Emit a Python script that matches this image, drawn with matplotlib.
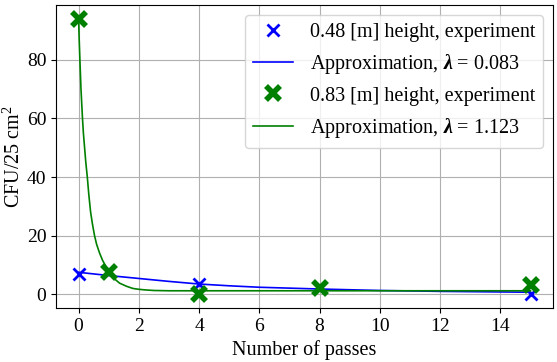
import matplotlib
matplotlib.use('Agg')
import matplotlib.pyplot as plt

plt.rcParams['font.family'] = 'Liberation Serif'
plt.rcParams['mathtext.fontset'] = 'custom'
plt.rcParams['mathtext.rm'] = 'Liberation Serif'
plt.rcParams['mathtext.it'] = 'Liberation Serif:italic'
plt.rcParams['mathtext.bf'] = 'Liberation Serif:italic:bold'
plt.rcParams['font.size'] = 14

# experiment points
passes = [0, 1, 4, 8, 15]
low_exp = [6.9, 7.5, 3.5, 2.0, 0.1]      # 0.48 m height
high_exp = [94, 7.7, 0.0, 2.1, 3.3]      # 0.83 m height

# approximation curves
low_fit_x = [0, 1, 2, 3, 4, 5, 6, 7, 8, 10, 12, 15]
low_fit_y = [7.5, 6.4, 5.4, 4.4, 3.5, 2.9, 2.4, 2.1, 1.8, 1.3, 1.0, 0.7]
high_fit_x = [0, 0.02, 0.044, 0.08, 0.13, 0.16, 0.2, 0.24, 0.29, 0.34, 0.4, 0.46,
              0.53, 0.6, 0.7, 0.8, 0.91, 1.0, 1.1, 1.2, 1.36, 1.6, 1.8, 2.0,
              2.2, 2.5, 3, 15]
high_fit_y = [94, 87, 80, 70, 60, 55, 50, 45, 40, 34, 28, 24,
              20, 17, 14, 11.5, 9.5, 7.8, 6.3, 5.2, 3.8, 2.7, 2.0, 1.7,
              1.5, 1.3, 1.2, 1.2]

fig, ax = plt.subplots(figsize=(5.57, 3.62), dpi=100)
ax.plot(passes, low_exp, 'x', color='blue', markersize=8, mew=2,
        label='0.48 [m] height, experiment')
ax.plot(low_fit_x, low_fit_y, '-', color='blue', linewidth=1.2,
        label=r'Approximation, $\mathbf{\lambda}$ = 0.083')
ax.plot(passes, high_exp, 'x', color='green', markersize=10, mew=4,
        label='0.83 [m] height, experiment')
ax.plot(high_fit_x, high_fit_y, '-', color='green', linewidth=1.2,
        label=r'Approximation, $\mathbf{\lambda}$ = 1.123')

ax.set_xlabel('Number of passes', fontsize=14.5)
ax.set_ylabel(r'CFU/25 cm$^2$', fontsize=14.5, labelpad=1.5)
ax.set_xticks([0, 2, 4, 6, 8, 10, 12, 14])
ax.set_yticks([0, 20, 40, 60, 80])
ax.grid(True)
ax.legend(loc='upper right', fontsize=14.5)

fig.subplots_adjust(left=0.1005, right=0.993, top=0.986, bottom=0.149)
plt.savefig('out.png', dpi=100)
